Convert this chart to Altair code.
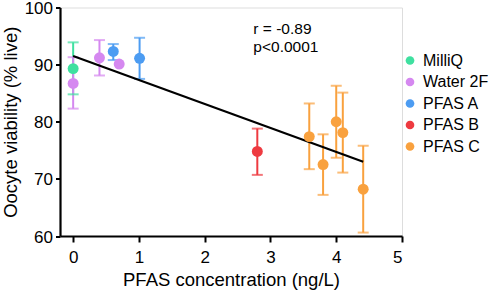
import altair as alt
import pandas as pd

# ---- data ----
groups = ["MilliQ", "Water 2F", "Water 2F", "Water 2F", "PFAS A", "PFAS A",
          "PFAS B", "PFAS C", "PFAS C", "PFAS C", "PFAS C", "PFAS C"]
conc = [0.0, 0.0, 0.40, 0.70, 0.61, 1.01, 2.80, 3.59, 3.80, 4.00, 4.10, 4.41]
viab = [89.3, 86.7, 91.2, 90.1, 92.3, 91.1, 74.8, 77.4, 72.5, 80.0, 78.1, 68.2]
err_lo = [84.8, 82.3, 88.1, None, 90.8, 87.5, 70.7, 71.7, 67.2, 73.7, 71.1, 60.6]
err_hi = [93.9, 91.3, 94.3, None, 93.6, 94.7, 78.8, 83.2, 77.8, 86.3, 85.1, 75.8]

fit_x = [0.0, 4.41]
fit_y = [91.5, 73.0]

legend_order = ["MilliQ", "Water 2F", "PFAS A", "PFAS B", "PFAS C"]
legend_colors = ["#3fe0a0", "#d588f0", "#4c9cf2", "#ee3a40", "#f9a13e"]

ann_x = [2.74, 2.74]
ann_y = [95.3, 92.25]
ann_text = ["r = -0.89", "p<0.0001"]

x_ticks = [0, 1, 2, 3, 4, 5]
y_ticks = [60, 70, 80, 90, 100]

FONT = "Liberation Sans"

df = pd.DataFrame({"group": groups, "x": conc, "y": viab, "lo": err_lo, "hi": err_hi})
df_err = df.dropna(subset=["lo", "hi"])
df_fit = pd.DataFrame({"x": fit_x, "y": fit_y})
df_ann = pd.DataFrame({"x": ann_x, "y": ann_y, "t": ann_text})

xscale = alt.Scale(domain=[-0.2, 5], nice=False, zero=False)
yscale = alt.Scale(domain=[60, 100], nice=False, zero=False)
cscale = alt.Scale(domain=legend_order, range=legend_colors)

legend = alt.Legend(title=None, orient="none", legendX=342, legendY=45,
                    symbolType="circle", symbolSize=75,
                    symbolStrokeWidth=0, symbolOpacity=1,
                    labelFont=FONT, labelFontSize=16,
                    labelColor="black", labelOffset=5,
                    rowPadding=5.5, padding=0)
color = alt.Color("group:N", scale=cscale, sort=legend_order, legend=legend)

xaxis = alt.Axis(values=x_ticks, format="d", title="PFAS concentration (ng/L)", grid=False,
                 tickSize=6, tickWidth=2, domainWidth=2.2, labelPadding=7,
                 labelFontSize=17, titleFontSize=18.5, titlePadding=5,
                 labelFont=FONT, titleFont=FONT, titleFontWeight="normal",
                 domainColor="black", tickColor="black", labelColor="black",
                 titleColor="black")
yaxis = alt.Axis(values=y_ticks, title="Oocyte viability (% live)", grid=False,
                 tickSize=4.5, tickWidth=2, domainWidth=2.2, labelPadding=3,
                 labelFontSize=17, labelOffset=1, titleFontSize=18.5, titlePadding=4,
                 labelFont=FONT, titleFont=FONT, titleFontWeight="normal",
                 domainColor="black", tickColor="black", labelColor="black",
                 titleColor="black")

base_err = alt.Chart(df_err)

bars = base_err.mark_rule(strokeWidth=2).encode(
    x=alt.X("x:Q", scale=xscale, axis=xaxis),
    y=alt.Y("lo:Q", scale=yscale, axis=yaxis),
    y2="hi:Q",
    color=color,
)
cap_lo = base_err.mark_tick(orient="horizontal", size=11, thickness=2).encode(
    x=alt.X("x:Q", scale=xscale),
    y=alt.Y("lo:Q", scale=yscale),
    color=color,
)
cap_hi = base_err.mark_tick(orient="horizontal", size=11, thickness=2).encode(
    x=alt.X("x:Q", scale=xscale),
    y=alt.Y("hi:Q", scale=yscale),
    color=color,
)

fit = alt.Chart(df_fit).mark_line(color="black", strokeWidth=2.2).encode(
    x=alt.X("x:Q", scale=xscale),
    y=alt.Y("y:Q", scale=yscale),
)

points = alt.Chart(df).mark_circle(size=120, opacity=1).encode(
    x=alt.X("x:Q", scale=xscale),
    y=alt.Y("y:Q", scale=yscale),
    color=color,
)

ann = alt.Chart(df_ann).mark_text(align="left", baseline="alphabetic", font=FONT,
                                  fontSize=15.5, color="black").encode(
    x=alt.X("x:Q", scale=xscale),
    y=alt.Y("y:Q", scale=yscale),
    text="t:N",
)

chart = alt.layer(bars, cap_lo, cap_hi, fit, points, ann).properties(
    width=342, height=228.5,
    autosize=alt.AutoSizeParams(type="none"),
    padding={"left": 60, "top": 7.5, "right": 87, "bottom": 57},
).configure_view(stroke=None).configure(background="white")

chart.save("out.html", embed_options={"renderer": "svg", "actions": False})
